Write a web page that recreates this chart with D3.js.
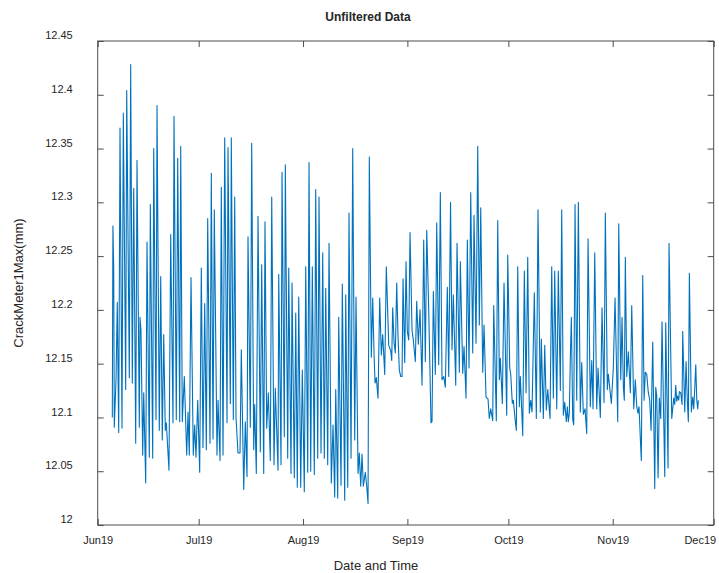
<!DOCTYPE html>
<html>
<head>
<meta charset="utf-8">
<script src="https://cdn.jsdelivr.net/npm/d3@7"></script>
<style>
  body { margin: 0; background: #fff; }
  text { font-family: "Liberation Sans", Arial, Helvetica, sans-serif; fill: #262626; }
</style>
</head>
<body>
<div id="chart"></div>
<script>
// series: days after 1 Jun 2019 and the max crack reading (mm)
const dayOffsets = [
  4.34, 4.52, 4.75, 4.93, 5.44, 5.82, 6.24, 6.63, 7.22, 7.61, 8.32, 8.62, 9.39, 9.80, 10.28, 10.70,
  11.29, 11.68, 12.36, 12.57, 12.86, 13.37, 13.67, 14.26, 14.65, 15.33, 15.63, 16.34, 16.64, 17.32,
  17.62, 18.30, 18.72, 19.19, 19.61, 20.08, 20.38, 21.18, 21.69, 22.37, 22.67, 23.35, 23.77, 24.36,
  24.66, 25.13, 25.73, 26.44, 26.83, 27.21, 27.72, 28.40, 28.82, 29.20, 29.71, 30.30, 30.78, 31.28,
  31.79, 32.27, 32.68, 33.36, 33.75, 34.26, 34.64, 35.44, 35.74, 36.34, 36.72, 37.23, 37.73, 38.42,
  38.71, 39.40, 39.69, 40.29, 40.70, 41.09, 41.68, 42.28, 42.66, 43.38, 43.85, 44.36, 44.65, 45.34,
  45.75, 46.35, 46.64, 47.12, 47.63, 48.31, 48.72, 49.32, 49.70, 50.21, 50.69, 51.28, 51.70, 52.38,
  52.76, 53.57, 53.78, 54.46, 54.76, 55.44, 55.74, 56.45, 56.75, 57.43, 57.73, 58.41, 58.83, 59.30,
  59.72, 60.31, 60.79, 61.38, 61.80, 62.39, 62.78, 63.28, 63.76, 64.35, 64.77, 65.36, 65.75, 66.34,
  66.85, 67.32, 67.74, 68.33, 68.72, 69.40, 69.91, 70.41, 70.71, 71.30, 71.60, 72.29, 72.67, 73.38,
  73.68, 74.28, 74.66, 75.26, 75.76, 76.35, 76.74, 77.34, 77.72, 78.14, 78.52, 78.91, 79.50, 79.92,
  80.31, 80.69, 81.29, 81.70, 82.09, 82.39, 82.77, 83.28, 83.78, 84.26, 84.67, 85.27, 85.74, 86.46,
  87.05, 87.35, 87.64, 88.03, 88.42, 88.83, 89.22, 89.61, 90.02, 90.41, 90.71, 91.21, 91.60, 91.98,
  92.40, 92.79, 93.38, 93.76, 94.36, 94.77, 95.25, 95.76, 96.35, 96.85, 97.33, 97.75, 98.34, 99.02,
  99.32, 99.71, 100.30, 100.72, 101.31, 101.79, 102.29, 102.80, 103.27, 103.87, 104.28, 104.82,
  105.26, 105.65, 106.36, 106.75, 107.43, 107.73, 108.44, 108.83, 109.42, 109.81, 110.31, 110.82,
  111.41, 111.80, 112.39, 112.90, 113.37, 113.79, 114.38, 114.77, 115.36, 115.96, 116.34, 116.76,
  117.35, 117.65, 118.42, 118.84, 119.32, 119.61, 120.21, 120.71, 121.51, 121.81, 122.41, 122.70,
  123.18, 123.47, 124.07, 124.37, 124.78, 125.26, 125.56, 126.27, 126.74, 127.25, 127.75, 128.23,
  128.64, 129.03, 129.71, 130.31, 130.81, 131.50, 131.79, 132.39, 132.80, 133.28, 133.70, 134.38,
  134.88, 135.36, 135.77, 136.37, 136.84, 137.44, 137.85, 138.33, 138.75, 139.22, 139.52, 139.82,
  140.11, 140.41, 140.71, 141.12, 141.42, 141.81, 142.31, 142.79, 143.38, 143.80, 144.27, 144.78,
  145.28, 145.67, 146.35, 146.77, 147.15, 147.66, 148.25, 148.64, 149.32, 149.83, 150.42, 150.81,
  151.40, 151.70, 152.20, 152.59, 153.18, 153.69, 154.49, 154.79, 155.38, 155.77, 156.16, 156.45,
  156.75, 157.17, 157.64, 157.94, 158.24, 158.65, 159.25, 159.72, 160.14, 160.52, 160.82, 161.21,
  161.50, 161.92, 162.31, 162.69, 163.11, 163.58, 164.00, 164.39, 164.89, 165.48, 165.78, 166.08,
  166.47, 166.85, 167.27, 167.65, 168.16, 168.46, 168.75, 169.44, 169.73, 170.54, 171.13, 171.43,
  171.72, 172.02, 172.32, 172.62, 172.79, 173.21, 173.60, 173.80, 174.40, 174.79, 175.17, 175.47,
  175.77, 176.36, 176.77, 177.07, 177.37, 177.67, 177.97, 178.26, 178.44
];

const crackMax = [
  12.100, 12.278, 12.240, 12.091, 12.135, 12.207, 12.086, 12.369, 12.090, 12.383, 12.126, 12.404,
  12.137, 12.428, 12.132, 12.313, 12.076, 12.339, 12.091, 12.193, 12.181, 12.065, 12.123, 12.039,
  12.263, 12.063, 12.298, 12.062, 12.350, 12.098, 12.390, 12.088, 12.231, 12.079, 12.177, 12.088,
  12.095, 12.051, 12.270, 12.095, 12.380, 12.098, 12.341, 12.096, 12.352, 12.096, 12.138, 12.065,
  12.105, 12.065, 12.230, 12.065, 12.093, 12.063, 12.116, 12.049, 12.239, 12.072, 12.206, 12.070,
  12.285, 12.076, 12.327, 12.080, 12.293, 12.065, 12.116, 12.060, 12.314, 12.065, 12.360, 12.095,
  12.351, 12.113, 12.360, 12.098, 12.305, 12.100, 12.067, 12.067, 12.163, 12.033, 12.096, 12.045,
  12.268, 12.091, 12.355, 12.070, 12.112, 12.048, 12.287, 12.068, 12.242, 12.048, 12.282, 12.090,
  12.123, 12.060, 12.305, 12.056, 12.127, 12.051, 12.233, 12.056, 12.328, 12.082, 12.335, 12.062,
  12.239, 12.048, 12.225, 12.044, 12.197, 12.035, 12.212, 12.035, 12.144, 12.031, 12.240, 12.049,
  12.337, 12.050, 12.240, 12.047, 12.312, 12.062, 12.305, 12.067, 12.253, 12.062, 12.220, 12.056,
  12.262, 12.039, 12.093, 12.026, 12.126, 12.025, 12.193, 12.037, 12.224, 12.023, 12.214, 12.035,
  12.290, 12.062, 12.350, 12.079, 12.212, 12.048, 12.067, 12.036, 12.066, 12.036, 12.049, 12.036,
  12.020, 12.342, 12.156, 12.211, 12.160, 12.132, 12.137, 12.118, 12.211, 12.158, 12.177, 12.140,
  12.240, 12.167, 12.162, 12.153, 12.202, 12.170, 12.160, 12.225, 12.175, 12.144, 12.138, 12.138,
  12.229, 12.151, 12.245, 12.180, 12.172, 12.272, 12.181, 12.172, 12.152, 12.208, 12.168, 12.200,
  12.130, 12.265, 12.152, 12.274, 12.200, 12.095, 12.096, 12.217, 12.140, 12.281, 12.149, 12.309,
  12.135, 12.138, 12.128, 12.221, 12.138, 12.300, 12.163, 12.214, 12.130, 12.262, 12.142, 12.245,
  12.141, 12.166, 12.118, 12.265, 12.146, 12.309, 12.160, 12.288, 12.169, 12.352, 12.186, 12.295,
  12.142, 12.186, 12.119, 12.117, 12.099, 12.108, 12.097, 12.204, 12.097, 12.283, 12.135, 12.155,
  12.113, 12.225, 12.102, 12.251, 12.146, 12.140, 12.113, 12.116, 12.096, 12.088, 12.240, 12.110,
  12.138, 12.083, 12.236, 12.123, 12.249, 12.104, 12.116, 12.105, 12.216, 12.099, 12.293, 12.105,
  12.173, 12.099, 12.167, 12.107, 12.126, 12.099, 12.240, 12.118, 12.236, 12.108, 12.236, 12.125,
  12.293, 12.102, 12.114, 12.096, 12.110, 12.096, 12.104, 12.156, 12.193, 12.098, 12.093, 12.298,
  12.116, 12.300, 12.105, 12.151, 12.103, 12.108, 12.085, 12.266, 12.110, 12.153, 12.108, 12.253,
  12.108, 12.146, 12.100, 12.202, 12.114, 12.290, 12.126, 12.140, 12.125, 12.113, 12.146, 12.211,
  12.096, 12.280, 12.135, 12.193, 12.128, 12.116, 12.249, 12.138, 12.161, 12.142, 12.123, 12.204,
  12.108, 12.135, 12.110, 12.104, 12.110, 12.080, 12.060, 12.232, 12.116, 12.142, 12.140, 12.123,
  12.116, 12.088, 12.170, 12.034, 12.128, 12.120, 12.044, 12.118, 12.099, 12.189, 12.097, 12.045,
  12.188, 12.053, 12.262, 12.099, 12.118, 12.112, 12.130, 12.115, 12.120, 12.116, 12.124, 12.123,
  12.112, 12.180, 12.105, 12.152, 12.115, 12.096, 12.234, 12.105, 12.119, 12.108, 12.127, 12.149,
  12.116, 12.108, 12.116
];

// axis ticks
const yTicks = [12, 12.05, 12.1, 12.15, 12.2, 12.25, 12.3, 12.35, 12.4, 12.45];
const monthTicks = ["2019-06-01", "2019-07-01", "2019-08-01", "2019-09-01", "2019-10-01", "2019-11-01", "2019-12-01"];
const monthLabels = ["Jun19", "Jul19", "Aug19", "Sep19", "Oct19", "Nov19", "Dec19"];

const startDay = new Date(2019, 5, 1);

// set the dimensions and margins of the graph
const margin = { top: 41, right: 5.3, bottom: 48, left: 97.7 };
const width = 719 - margin.left - margin.right;
const height = 573 - margin.top - margin.bottom;
const tickLen = 6;

const parseDay = d3.timeParse("%Y-%m-%d");
const toDate = (d) => new Date(startDay.getTime() + d * 864e5);

const data = dayOffsets.map((d, i) => ({ date: toDate(d), value: crackMax[i] }));

const svg = d3
  .select("#chart")
  .append("svg")
  .attr("width", 719)
  .attr("height", 573);

const g = svg
  .append("g")
  .attr("transform", `translate(${margin.left},${margin.top})`);

// scales
const x = d3
  .scaleTime()
  .domain([parseDay(monthTicks[0]), parseDay(monthTicks[monthTicks.length - 1])])
  .range([0, width]);

const y = d3.scaleLinear().domain([12, 12.45]).range([height, 0]);

// the line itself
const line = d3
  .line()
  .x((d) => x(d.date))
  .y((d) => y(d.value));

g.append("path")
  .datum(data)
  .attr("fill", "none")
  .attr("stroke", "#0072BD")
  .attr("stroke-width", 1.1)
  .attr("stroke-linejoin", "round")
  .attr("d", line);

// axes - ticks point inward like matlab
const styleAxis = (sel) => {
  sel.select(".domain").remove();
  sel.selectAll(".tick line").attr("stroke", "#4d4d4d");
  sel.selectAll(".tick text").style("font-size", "11px").attr("fill", "#262626");
};

const xAxis = g
  .append("g")
  .attr("transform", `translate(0,${height})`)
  .call(
    d3
      .axisBottom(x)
      .tickValues(monthTicks.map(parseDay))
      .tickFormat((d, i) => monthLabels[i])
      .tickSizeInner(-tickLen)
      .tickSizeOuter(0)
      .tickPadding(11)
  )
  .call(styleAxis);

// last label would run off the page, keep it inside (matlab does this too)
xAxis
  .selectAll(".tick text")
  .filter((d, i) => i === monthLabels.length - 1)
  .attr("text-anchor", "end")
  .attr("x", 2);

g.append("g")
  .call(
    d3
      .axisTop(x)
      .tickValues(monthTicks.map(parseDay))
      .tickFormat("")
      .tickSizeInner(-tickLen)
      .tickSizeOuter(0)
  )
  .call(styleAxis);

g.append("g")
  .call(
    d3
      .axisLeft(y)
      .tickValues(yTicks)
      .tickFormat((d) => String(d))
      .tickSizeInner(-tickLen)
      .tickSizeOuter(0)
      .tickPadding(25)
  )
  .call(styleAxis)
  .selectAll(".tick text")
  .attr("dy", "-0.22em");

g.append("g")
  .attr("transform", `translate(${width},0)`)
  .call(
    d3
      .axisRight(y)
      .tickValues(yTicks)
      .tickFormat("")
      .tickSizeInner(-tickLen)
      .tickSizeOuter(0)
  )
  .call(styleAxis);

// box round the plot
g.append("rect")
  .attr("width", width)
  .attr("height", height)
  .attr("fill", "none")
  .attr("stroke", "#4d4d4d")
  .attr("stroke-width", 1);

// title and labels (the reference sits them a bit left of the plot centre)
svg
  .append("text")
  .attr("x", 368)
  .attr("y", 21)
  .attr("text-anchor", "middle")
  .style("font-size", "12px")
  .style("font-weight", "bold")
  .text("Unfiltered Data");

svg
  .append("text")
  .attr("x", 376)
  .attr("y", 570)
  .attr("text-anchor", "middle")
  .style("font-size", "13px")
  .text("Date and Time");

svg
  .append("text")
  .attr("transform", `translate(23,${margin.top + height / 2}) rotate(-90)`)
  .attr("text-anchor", "middle")
  .style("font-size", "13px")
  .text("CrackMeter1Max(mm)");
</script>
</body>
</html>
